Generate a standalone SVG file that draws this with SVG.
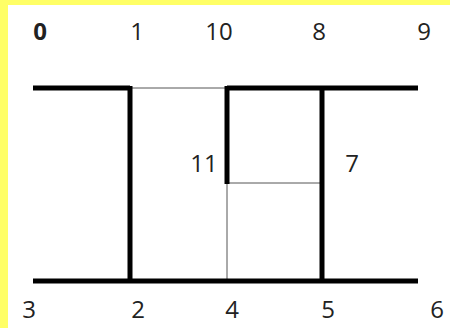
<svg xmlns="http://www.w3.org/2000/svg" width="450" height="328" viewBox="0 0 450 328">
  <style>
    .lbl { font-family: "Open Sans", "Liberation Sans", sans-serif; font-size: 24px; fill: #222; text-anchor: middle; }
    .b { font-weight: bold; }
    .thick { stroke: #000; stroke-width: 5; fill: none; stroke-linecap: butt; }
    .thin { stroke: #555; stroke-width: 1; fill: none; }
  </style>
  <rect x="0" y="0" width="450" height="328" fill="#ffffff"/>
  <rect x="0" y="0" width="450" height="5" fill="#ffff66"/>
  <rect x="0" y="0" width="8" height="328" fill="#ffff66"/>
  <g id="connectors">
    <line class="thin" x1="130" y1="88" x2="227" y2="88"/>
    <line class="thin" x1="227" y1="183" x2="322" y2="183"/>
    <line class="thin" x1="227" y1="183" x2="227" y2="281"/>
    <line class="thick" x1="33" y1="88" x2="130" y2="88"/>
    <line class="thick" x1="227" y1="88" x2="418" y2="88"/>
    <line class="thick" x1="33" y1="281" x2="418" y2="281"/>
    <line class="thick" x1="130" y1="86" x2="130" y2="283"/>
    <line class="thick" x1="227" y1="86" x2="227" y2="184"/>
    <line class="thick" x1="322" y1="86" x2="322" y2="283"/>
  </g>
  <g id="n0"><text class="lbl b" x="40" y="40">0</text></g>
  <g id="n1"><text class="lbl" x="137" y="40">1</text></g>
  <g id="n10"><text class="lbl" x="219" y="40">10</text></g>
  <g id="n8"><text class="lbl" x="319" y="40">8</text></g>
  <g id="n9"><text class="lbl" x="424" y="40">9</text></g>
  <g id="n11"><text class="lbl" x="204" y="172">11</text></g>
  <g id="n7"><text class="lbl" x="352" y="172">7</text></g>
  <g id="n3"><text class="lbl" x="29" y="318">3</text></g>
  <g id="n2"><text class="lbl" x="138" y="318">2</text></g>
  <g id="n4"><text class="lbl" x="232" y="318">4</text></g>
  <g id="n5"><text class="lbl" x="328" y="318">5</text></g>
  <g id="n6"><text class="lbl" x="437" y="318">6</text></g>
</svg>
